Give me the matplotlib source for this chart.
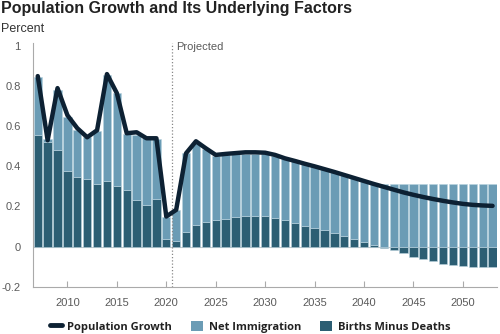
import numpy as np
import matplotlib
matplotlib.use('Agg')
import matplotlib.pyplot as plt
from matplotlib.ticker import FixedLocator
from matplotlib.lines import Line2D
from matplotlib.patches import Patch

# Данные (проценты)
years = list(range(2007, 2054))

births_minus_deaths = [
    0.555, 0.52, 0.48, 0.378, 0.347, 0.337, 0.313, 0.325, 0.30, 0.28,
    0.233, 0.205, 0.237, 0.037, 0.028, 0.075, 0.108, 0.125, 0.133, 0.137,
    0.147, 0.153, 0.153, 0.153, 0.142, 0.131, 0.118, 0.103, 0.094, 0.081,
    0.067, 0.053, 0.037, 0.025, 0.008, -0.008, -0.018, -0.032, -0.05, -0.061,
    -0.074, -0.086, -0.091, -0.097, -0.102, -0.102, -0.102,
]

net_immigration = [
    0.29, 0.015, 0.30, 0.27, 0.235, 0.21, 0.265, 0.53, 0.465, 0.28,
    0.325, 0.335, 0.30, 0.11, 0.155, 0.39, 0.41, 0.36, 0.32, 0.318,
    0.313, 0.31, 0.31, 0.307, 0.308, 0.308, 0.309, 0.311, 0.307, 0.308,
    0.305, 0.305, 0.305, 0.303, 0.303, 0.31, 0.31, 0.31, 0.31, 0.31,
    0.31, 0.31, 0.31, 0.31, 0.31, 0.31, 0.31,
]

population_growth = [
    0.85, 0.53, 0.79, 0.655, 0.59, 0.545, 0.58, 0.86, 0.765, 0.565,
    0.57, 0.54, 0.54, 0.15, 0.183, 0.465, 0.525, 0.49, 0.457, 0.462,
    0.466, 0.47, 0.47, 0.468, 0.457, 0.44, 0.427, 0.413, 0.40, 0.386,
    0.372, 0.357, 0.342, 0.327, 0.312, 0.298, 0.284, 0.27, 0.258, 0.247,
    0.237, 0.228, 0.22, 0.213, 0.208, 0.205, 0.203,
]

x_ticks = [2010, 2015, 2020, 2025, 2030, 2035, 2040, 2045, 2050]
y_ticks = [-0.2, 0, 0.2, 0.4, 0.6, 0.8, 1]
y_tick_labels = ['-0.2', '0', '0.2', '0.4', '0.6', '0.8', '1']
projection_start = 2020.55

light_color = '#6b9cb5'
dark_color = '#2c5e73'
line_color = '#0d2133'
grey = '#5a5a5a'

plt.rcParams['font.family'] = ['Liberation Sans', 'DejaVu Sans']

fig = plt.figure(figsize=(5, 3.34), dpi=100)
ax = fig.add_axes([0.066, 0.1416, 0.928, 0.7297])

births = np.array(births_minus_deaths)
imm = np.array(net_immigration)

# Тёмные столбцы: рождения минус смерти; светлые сверху (или от нуля, если отрицательно)
ax.bar(years, births, width=0.84, color=dark_color, edgecolor='#b9d3df', linewidth=0.4, zorder=2)
ax.bar(years, imm, width=0.84, bottom=np.clip(births, 0, None), color=light_color,
       edgecolor='#b9d3df', linewidth=0.4, zorder=2)

ax.plot(years, population_growth, color=line_color, linewidth=3.2,
        solid_joinstyle='round', solid_capstyle='round', zorder=4)

ax.axhline(0, color='#c8c8c8', linewidth=0.8, zorder=1)
ax.axvline(projection_start, color='#888888', linestyle=(0, (1, 1.6)), linewidth=0.9, zorder=3)
ax.text(projection_start + 0.45, 0.995, 'Projected', color=grey, fontsize=8, va='center', ha='left')

ax.set_xlim(2006.52, 2053.45)
ax.set_ylim(-0.2, 1.015)
ax.set_xticks(x_ticks)
ax.set_xticklabels([str(t) for t in x_ticks])
ax.set_yticks(y_ticks)
ax.set_yticklabels(y_tick_labels)
ax.yaxis.set_minor_locator(FixedLocator([1]))

ax.tick_params(axis='x', direction='in', length=4, color='#aaaaaa', labelcolor=grey,
               labelsize=8, pad=8)
ax.tick_params(axis='y', which='major', length=0, labelcolor=grey, labelsize=8, pad=9)
ax.tick_params(axis='y', which='minor', direction='in', length=4, color='#aaaaaa')

for side in ['top', 'right']:
    ax.spines[side].set_visible(False)
for side in ['left', 'bottom']:
    ax.spines[side].set_color('#aaaaaa')
    ax.spines[side].set_linewidth(0.8)

fig.text(0.002, 0.961, 'Population Growth and Its Underlying Factors', fontsize=11.5,
         fontweight='bold', color='#222222', va='baseline', ha='left')
fig.text(0.002, 0.905, 'Percent', fontsize=9, color='#333333', va='baseline', ha='left')

handles = [
    Line2D([0], [0], color=line_color, linewidth=3.5, solid_capstyle='round'),
    Patch(facecolor=light_color),
    Patch(facecolor=dark_color),
]
labels = ['Population Growth', 'Net Immigration', 'Births Minus Deaths']
fig.legend(handles, labels, loc='center', bbox_to_anchor=(0.5, 0.022), ncol=3, frameon=False,
           prop={'family': 'Open Sans', 'weight': 'bold', 'size': 8}, handlelength=1.1,
           handleheight=1.1, columnspacing=1.7, handletextpad=0.5, labelcolor='#222222')

fig.savefig('out.png', dpi=100)
